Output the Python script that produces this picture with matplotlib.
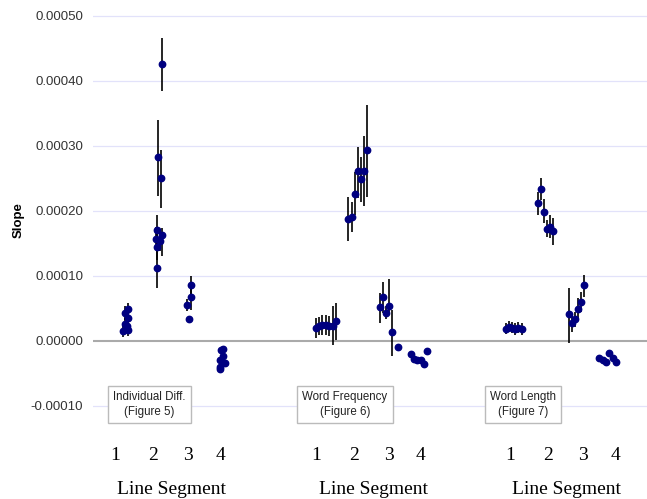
"""Slope estimates per line segment for three predictors, with error bars."""
import matplotlib
matplotlib.use("Agg")
import matplotlib.pyplot as plt
import numpy as np

# --- Individual differences (Figure 5) ---
ind_x = [1.07, 0.97, 1.07, 0.97, 1.02, 0.92, 1.07,
         2.12, 1.99, 2.08, 1.96, 2.12, 1.94, 2.06, 1.98, 1.96,
         3.02, 3.02, 2.92, 2.98,
         4.02, 3.96, 4.02, 4.09, 3.94, 3.94, 3.94]
ind_slope = [4.9e-5, 4.3e-5, 3.5e-5, 2.6e-5, 2.3e-5, 1.6e-5, 1.7e-5,
             4.26e-4, 2.83e-4, 2.51e-4, 1.71e-4, 1.63e-4, 1.57e-4, 1.53e-4, 1.45e-4, 1.12e-4,
             8.6e-5, 6.7e-5, 5.5e-5, 3.3e-5,
             -1.2e-5, -1.4e-5, -2.3e-5, -3.4e-5, -2.9e-5, -3.95e-5, -4.35e-5]
ind_lo = [3.9e-5, 3.2e-5, 2.5e-5, 1.6e-5, 1.3e-5, 0.6e-5, 0.7e-5,
          3.84e-4, 2.23e-4, 2.04e-4, 1.45e-4, 1.30e-4, 1.40e-4, 1.38e-4, 1.25e-4, 0.81e-4,
          7.2e-5, 4.8e-5, 4.6e-5, 2.8e-5,
          -1.5e-5, -1.7e-5, -2.6e-5, -3.7e-5, -3.2e-5, -4.2e-5, -4.6e-5]
ind_hi = [5.9e-5, 5.3e-5, 4.5e-5, 3.6e-5, 3.3e-5, 2.6e-5, 2.7e-5,
          4.66e-4, 3.40e-4, 2.94e-4, 1.94e-4, 1.73e-4, 1.75e-4, 1.70e-4, 1.65e-4, 1.45e-4,
          1.00e-4, 8.0e-5, 6.4e-5, 3.8e-5,
          -0.9e-5, -1.1e-5, -2.0e-5, -3.1e-5, -2.6e-5, -3.7e-5, -4.1e-5]

# --- Word frequency (Figure 6) ---
freq_x = [6.94, 7.04, 7.13, 7.24, 7.35, 7.46, 7.56,
          7.95, 8.05, 8.16, 8.26, 8.34, 8.44, 8.54,
          8.94, 9.02, 9.13, 9.22, 9.32, 9.51,
          9.90, 10.00, 10.10, 10.21, 10.32, 10.42]
freq_slope = [2.05e-5, 2.3e-5, 2.45e-5, 2.45e-5, 2.3e-5, 2.3e-5, 3.1e-5,
              1.88e-4, 1.91e-4, 2.26e-4, 2.62e-4, 2.49e-4, 2.62e-4, 2.94e-4,
              5.2e-5, 6.8e-5, 4.3e-5, 5.4e-5, 1.3e-5, -0.9e-5,
              -2.0e-5, -2.8e-5, -2.9e-5, -2.9e-5, -3.6e-5, -1.5e-5]
freq_lo = [0.5e-5, 0.9e-5, 0.9e-5, 0.9e-5, 0.7e-5, -0.6e-5, 0.2e-5,
           1.53e-4, 1.68e-4, 1.93e-4, 2.20e-4, 2.14e-4, 2.08e-4, 2.21e-4,
           2.8e-5, 4.3e-5, 3.3e-5, 4.3e-5, -2.3e-5, -1.1e-5,
           -2.2e-5, -3.0e-5, -3.1e-5, -3.1e-5, -3.8e-5, -1.7e-5]
freq_hi = [3.5e-5, 3.7e-5, 4.0e-5, 4.0e-5, 3.9e-5, 5.3e-5, 5.8e-5,
           2.21e-4, 2.13e-4, 2.60e-4, 2.99e-4, 2.83e-4, 3.15e-4, 3.63e-4,
           7.3e-5, 9.0e-5, 5.3e-5, 9.6e-5, 4.8e-5, -0.7e-5,
           -1.8e-5, -2.6e-5, -2.7e-5, -2.7e-5, -3.4e-5, -1.3e-5]

# --- Word length (Figure 7) ---
len_x = [12.87, 12.97, 13.05, 13.16, 13.26, 13.37,
         13.87, 13.96, 14.05, 14.15, 14.25, 14.35,
         14.83, 14.93, 15.02, 15.12, 15.22, 15.32,
         15.79, 15.90, 16.00, 16.10, 16.22, 16.31]
len_slope = [1.9e-5, 2.2e-5, 2.05e-5, 1.8e-5, 2.05e-5, 1.85e-5,
             2.12e-4, 2.34e-4, 1.99e-4, 1.72e-4, 1.76e-4, 1.69e-4,
             4.1e-5, 2.8e-5, 3.3e-5, 4.9e-5, 6.0e-5, 8.6e-5,
             -2.6e-5, -2.9e-5, -3.3e-5, -1.9e-5, -2.6e-5, -3.3e-5]
len_lo = [1.0e-5, 1.3e-5, 1.15e-5, 0.9e-5, 1.15e-5, 0.95e-5,
          1.94e-4, 2.17e-4, 1.81e-4, 1.60e-4, 1.58e-4, 1.47e-4,
          -0.3e-5, 1.4e-5, 2.2e-5, 3.5e-5, 4.5e-5, 6.8e-5,
          -2.8e-5, -3.1e-5, -3.5e-5, -2.1e-5, -2.8e-5, -3.5e-5]
len_hi = [2.8e-5, 3.1e-5, 2.95e-5, 2.7e-5, 2.95e-5, 2.75e-5,
          2.29e-4, 2.50e-4, 2.18e-4, 1.86e-4, 1.93e-4, 1.89e-4,
          8.2e-5, 3.9e-5, 4.4e-5, 6.6e-5, 7.5e-5, 1.01e-4,
          -2.4e-5, -2.7e-5, -3.1e-5, -1.7e-5, -2.4e-5, -3.1e-5]

panel_names = ["Individual Diff.\n(Figure 5)", "Word Frequency\n(Figure 6)", "Word Length\n(Figure 7)"]
segment_labels = ["1", "2", "3", "4"]
y_ticks = [-0.0001, 0.0, 0.0001, 0.0002, 0.0003, 0.0004, 0.0005]

# layout of the under-axis labels (x in data units)
seg_label_x = [[0.66, 1.84, 2.94, 3.94], [6.94, 8.13, 9.22, 10.19], [13.0, 14.19, 15.28, 16.28]]
box_x = [1.73, 7.84, 13.4]
axis_title_x = [2.41, 8.73, 14.77]

fig = plt.figure(figsize=(6.47, 4.99), dpi=100)
ax = fig.add_axes([93 / 647, 69 / 499, 555 / 647, 420 / 499])
ax.set_xlim(-0.03, 17.31)
ax.set_ylim(-0.000137, 0.000509)

for v in y_ticks:
    if v == 0:
        ax.axhline(v, color="#aaaaaa", lw=1.5, zorder=1)
    else:
        ax.axhline(v, color="#e2e2fa", lw=0.9, zorder=0)

for xs, ys, lo, hi in [(ind_x, ind_slope, ind_lo, ind_hi),
                       (freq_x, freq_slope, freq_lo, freq_hi),
                       (len_x, len_slope, len_lo, len_hi)]:
    ax.vlines(xs, lo, hi, color="black", lw=1.2, zorder=2)
    ax.plot(xs, ys, "o", color="#000080", ms=4.6, zorder=3)

for name, bx in zip(panel_names, box_x):
    ax.text(bx, -0.0000975, name, ha="center", va="center", fontsize=8.3,
            family="Liberation Sans", color="#222222", linespacing=1.35, zorder=4,
            bbox=dict(boxstyle="square,pad=0.45", fc="white", ec="#bbbbbb", lw=1.0))

trans = ax.get_xaxis_transform()
for xs in seg_label_x:
    for lab, sx in zip(segment_labels, xs):
        ax.text(sx, -0.0714, lab, transform=trans, ha="center", va="baseline",
                fontsize=14, family="Liberation Serif", clip_on=False)
for tx in axis_title_x:
    ax.text(tx, -0.152, "Line Segment", transform=trans, ha="center", va="baseline",
            fontsize=14, family="Liberation Serif", clip_on=False)

ax.set_yticks(y_ticks)
ax.set_yticklabels([f"{v:.5f}" for v in y_ticks])
ax.tick_params(axis="y", length=0, pad=7, labelsize=9.5, labelcolor="#333333")
for lab in ax.get_yticklabels():
    lab.set_family("Liberation Sans")
ax.set_xticks([])
for s in ax.spines.values():
    s.set_visible(False)
ax.set_ylabel("Slope", fontsize=9.5, fontweight="bold", family="Liberation Sans", labelpad=4.5)

fig.savefig("out.png", dpi=100)
